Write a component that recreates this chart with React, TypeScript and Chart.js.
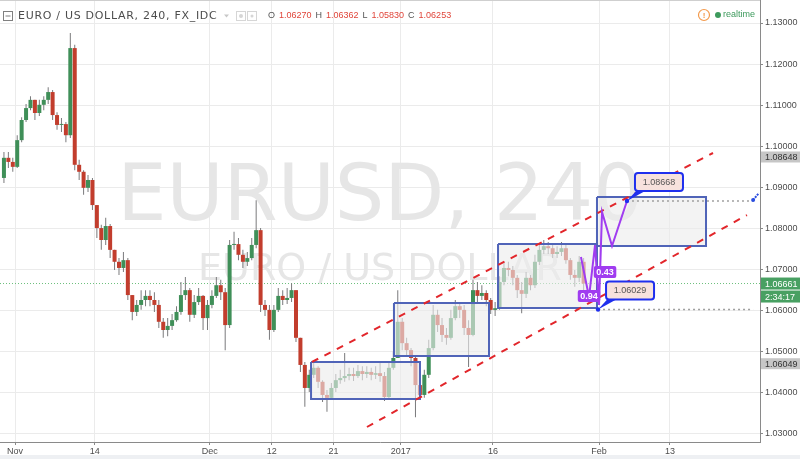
import React, { useEffect, useRef } from "react";
import { Chart, registerables } from "chart.js";

Chart.register(...registerables);

// ---------- data (trading-day index: Nov 1 2016 = 0, 12h candles) ----------
const candleStartDay = -1.25;
const candleStepDays = 0.5;
const firstOpen = 1.0923;

const closes = [
  1.0972, 1.0962, 1.095, 1.1015, 1.1064, 1.1093, 1.1113, 1.1081, 1.1101, 1.1113,
  1.1132, 1.1076, 1.1052, 1.1054, 1.1027, 1.1239, 1.0955, 1.0938, 1.0899, 1.0918,
  1.0857, 1.0801, 1.0772, 1.0806, 1.0748, 1.0719, 1.0704, 1.0723, 1.0638, 1.0597,
  1.0614, 1.0626, 1.0636, 1.0626, 1.0614, 1.0573, 1.0553, 1.0563, 1.0577, 1.0597,
  1.0638, 1.065, 1.059, 1.0621, 1.0636, 1.0582, 1.0614, 1.0636, 1.0662, 1.0645,
  1.0565, 1.076, 1.0762, 1.0736, 1.0719, 1.0728, 1.076, 1.0796, 1.0614, 1.0602,
  1.0553, 1.0602, 1.0636, 1.0626, 1.0631, 1.065, 1.0534, 1.0468, 1.0412, 1.0444,
  1.0461, 1.0427, 1.0395, 1.0388, 1.0412, 1.0431, 1.0436, 1.0441, 1.0446, 1.0441,
  1.0453, 1.0446, 1.0451, 1.0444, 1.0448, 1.0441, 1.039, 1.0461, 1.0485, 1.0573,
  1.0521, 1.0504, 1.0485, 1.0419, 1.0395, 1.0444, 1.0509, 1.059, 1.0565, 1.0541,
  1.0534, 1.0582, 1.0611, 1.0602, 1.0558, 1.0541, 1.065, 1.0636, 1.0643, 1.0626,
  1.0602, 1.0606, 1.067, 1.0704, 1.0699, 1.068, 1.065, 1.0641, 1.068, 1.0662,
  1.0719, 1.0748, 1.0757, 1.0752, 1.0738, 1.0743, 1.0752, 1.0723, 1.0687, 1.068,
  1.0719, 1.0666,
];

const highs = [
  1.0986, 1.0986, 1.0972, 1.1027, 1.1071, 1.1103, 1.1122, 1.1113, 1.1113, 1.1122,
  1.1144, 1.1137, 1.1083, 1.1069, 1.1059, 1.1276, 1.1247, 1.0967, 1.0942, 1.093,
  1.0923, 1.0857, 1.0809, 1.0826, 1.0811, 1.0748, 1.0728, 1.0743, 1.0728, 1.0638,
  1.0626, 1.065, 1.065, 1.065, 1.0645, 1.0626, 1.0582, 1.0582, 1.0592, 1.0611,
  1.067, 1.0682, 1.0655, 1.0638, 1.0655, 1.0638, 1.0626, 1.065, 1.0682, 1.0675,
  1.0655, 1.0772, 1.0792, 1.0777, 1.0748, 1.0743, 1.0777, 1.0869, 1.0801, 1.0626,
  1.0614, 1.0614, 1.0655, 1.065, 1.0655, 1.0667, 1.065, 1.0534, 1.0475, 1.0456,
  1.0475, 1.0465, 1.0431, 1.0407, 1.0424, 1.0446, 1.0456, 1.0497, 1.0461, 1.0461,
  1.0468, 1.0465, 1.0465, 1.0461, 1.0465, 1.0475, 1.0451, 1.0475, 1.05, 1.065,
  1.0582, 1.0534, 1.0509, 1.049, 1.0431, 1.0456, 1.0529, 1.0614, 1.0602, 1.0582,
  1.0558, 1.0602, 1.0626, 1.0621, 1.0614, 1.0577, 1.0675, 1.067, 1.0662, 1.065,
  1.0631, 1.0621, 1.0684, 1.0719, 1.0719, 1.0709, 1.0687, 1.067, 1.0694, 1.0687,
  1.0736, 1.0762, 1.0772, 1.0767, 1.0762, 1.0757, 1.0767, 1.076, 1.0728, 1.0699,
  1.0733, 1.0728,
];

const lows = [
  1.0911, 1.0947, 1.0938, 1.0947, 1.101, 1.1059, 1.1088, 1.1064, 1.1074, 1.1088,
  1.1103, 1.1064, 1.104, 1.1035, 1.101, 1.102, 1.0942, 1.0918, 1.0882, 1.0889,
  1.0845, 1.0777, 1.0748, 1.076, 1.0728, 1.0699, 1.0687, 1.0694, 1.0626, 1.0577,
  1.0587, 1.0602, 1.0611, 1.0611, 1.0597, 1.0558, 1.0534, 1.0538, 1.0553, 1.0573,
  1.059, 1.0626, 1.0573, 1.0582, 1.0614, 1.0553, 1.0553, 1.0606, 1.0631, 1.0626,
  1.0504, 1.0558, 1.0748, 1.0723, 1.0704, 1.0709, 1.0723, 1.0752, 1.0597, 1.0587,
  1.0529, 1.0548, 1.0597, 1.0614, 1.0616, 1.0621, 1.0524, 1.0451, 1.0366, 1.0402,
  1.0436, 1.0412, 1.0378, 1.0354, 1.0383, 1.0402, 1.0422, 1.0427, 1.0431, 1.0429,
  1.0436, 1.0431, 1.0436, 1.0431, 1.0434, 1.0427, 1.038, 1.0385, 1.0456, 1.0485,
  1.0504, 1.049, 1.0465, 1.0341, 1.0383, 1.0388, 1.0436, 1.0504, 1.0548, 1.0524,
  1.0517, 1.0529, 1.0577, 1.0582, 1.0541, 1.0463, 1.0538, 1.0621, 1.0626, 1.0611,
  1.0592, 1.0587, 1.0602, 1.0662, 1.0684, 1.0662, 1.0631, 1.0594, 1.0631, 1.065,
  1.0655, 1.0711, 1.0738, 1.0738, 1.0728, 1.0728, 1.0733, 1.0714, 1.0675, 1.0658,
  1.067, 1.065,
];

// visible range
const viewDayMin = -1.695;
const viewDayMax = 84.18;
const viewPriceMin = 1.02805;
const viewPriceMax = 1.1356;

const priceTicks = [1.03, 1.04, 1.05, 1.06, 1.07, 1.08, 1.09, 1.1, 1.11, 1.12, 1.13];
const timeTickDays = [0, 9, 22, 29, 36, 43.6, 54, 66, 74];
const timeTickLabels = ["Nov", "14", "Dec", "12", "21", "2017", "16", "Feb", "13"];

// drawings
const boxLeftDays = [33.45, 42.82, 54.58, 65.76];
const boxRightDays = [45.76, 53.56, 65.76, 78.08];
const boxTopPrices = [1.04752, 1.06187, 1.07623, 1.08766];
const boxBottomPrices = [1.03852, 1.04898, 1.06066, 1.07574];

const channelUpperDays = [33.56, 78.87];
const channelUpperPrices = [1.04752, 1.09837];
const channelLowerDays = [39.77, 82.71];
const channelLowerPrices = [1.0317, 1.08328];

const patternDays = [63.95, 64.86, 65.54, 65.99, 66.33, 67.46, 69.15];
const patternPrices = [1.07306, 1.06333, 1.07598, 1.06139, 1.08402, 1.07574, 1.08668];
const ratioLabelDays = [64.86, 66.67];
const ratioLabelPrices = [1.0636, 1.0694];
const ratioLabelTexts = ["0.94", "0.43"];

const targetDays = [69.15, 65.88];
const targetPrices = [1.08668, 1.06029];
const targetTexts = ["1.08668", "1.06029"];
const rayEndDay = 83.4;

const lastPrice = 1.06661;
const countdownText = "2:34:17";
const axisMarkPrices = [1.0974, 1.0471];
const axisMarkTexts = ["1.08648", "1.06049"];

const headerTitle = "EURO / US DOLLAR, 240, FX_IDC";
const ohlcKeys = ["O", "H", "L", "C"];
const ohlcValues = ["1.06270", "1.06362", "1.05830", "1.06253"];
const watermarkMain = "EURUSD, 240";
const watermarkSub = "EURO / US DOLLAR";

// ---------- styles ----------
const upFill = "#3f8f58";
const downFill = "#c23d2d";
const wickColor = "#7a7a7c";
const boxBlue = "#5064b8";
const channelRed = "#e2262b";
const purple = "#a03cf0";
const calloutBlue = "#1f2fee";
const SANS = "'Liberation Sans', Arial, sans-serif";

const candleDays = closes.map((_, i) => candleStartDay + i * candleStepDays);
const opens = closes.map((_, i) => (i === 0 ? firstOpen : closes[i - 1]));

function rr(ctx: CanvasRenderingContext2D, x: number, y: number, w: number, h: number, r: number) {
  ctx.beginPath();
  ctx.moveTo(x + r, y);
  ctx.lineTo(x + w - r, y);
  ctx.quadraticCurveTo(x + w, y, x + w, y + r);
  ctx.lineTo(x + w, y + h - r);
  ctx.quadraticCurveTo(x + w, y + h, x + w - r, y + h);
  ctx.lineTo(x + r, y + h);
  ctx.quadraticCurveTo(x, y + h, x, y + h - r);
  ctx.lineTo(x, y + r);
  ctx.quadraticCurveTo(x, y, x + r, y);
  ctx.closePath();
}

const decorPlugin = {
  id: "decor",
  beforeDatasetsDraw(chart: any) {
    const { ctx, chartArea: a } = chart;
    ctx.save();
    ctx.beginPath();
    ctx.rect(a.left, a.top, a.right - a.left, a.bottom - a.top);
    ctx.clip();
    const cx = (a.left + a.right) / 2;
    const cy = (a.top + a.bottom) / 2;
    ctx.fillStyle = "#e6e6e6";
    ctx.textAlign = "center";
    ctx.textBaseline = "alphabetic";
    ctx.font = "78px 'DejaVu Sans'";
    ctx.fillText(watermarkMain, cx, cy - 1);
    ctx.font = "38px 'DejaVu Sans'";
    ctx.fillText(watermarkSub, cx, cy + 59);
    ctx.restore();
  },
  afterDatasetsDraw(chart: any) {
    const { ctx, chartArea: a, scales } = chart;
    const xs = scales.x;
    const ys = scales.y;
    ctx.save();
    // ratio labels
    ctx.font = `bold 9px ${SANS}`;
    ctx.textAlign = "center";
    ctx.textBaseline = "middle";
    ratioLabelTexts.forEach((t, i) => {
      const px = xs.getPixelForValue(ratioLabelDays[i]);
      const py = ys.getPixelForValue(ratioLabelPrices[i]);
      const w = ctx.measureText(t).width + 5;
      ctx.fillStyle = purple;
      rr(ctx, px - w / 2, py - 6, w, 12, 2);
      ctx.fill();
      ctx.fillStyle = "#ffffff";
      ctx.fillText(t, px, py + 0.5);
    });
    // callouts
    targetTexts.forEach((t, i) => {
      const ax = xs.getPixelForValue(targetDays[i]);
      const ay = ys.getPixelForValue(targetPrices[i]);
      const bx = ax + 8;
      const by = ay - 28;
      const bw = 48;
      const bh = 18;
      ctx.fillStyle = calloutBlue;
      ctx.beginPath();
      ctx.moveTo(ax, ay);
      ctx.lineTo(bx + 2, by + bh - 1);
      ctx.lineTo(bx + 12, by + bh - 1);
      ctx.closePath();
      ctx.fill();
      ctx.fillStyle = "#f7e2dd";
      ctx.strokeStyle = calloutBlue;
      ctx.lineWidth = 2;
      rr(ctx, bx, by, bw, bh, 3);
      ctx.fill();
      ctx.stroke();
      ctx.fillStyle = "#555555";
      ctx.font = `9px ${SANS}`;
      ctx.fillText(t, bx + bw / 2, by + bh / 2 + 0.5);
      ctx.fillStyle = calloutBlue;
      ctx.beginPath();
      ctx.arc(ax, ay, 2.2, 0, Math.PI * 2);
      ctx.fill();
    });
    // small arrow at right end of upper ray
    const ry = ys.getPixelForValue(targetPrices[0]);
    const rx = xs.getPixelForValue(rayEndDay);
    ctx.strokeStyle = "#2a4de0";
    ctx.lineWidth = 2;
    ctx.setLineDash([2, 1]);
    ctx.beginPath();
    ctx.moveTo(rx, ry - 1);
    ctx.lineTo(a.right - 1, ry - 8);
    ctx.stroke();
    ctx.setLineDash([]);
    ctx.fillStyle = "#2a4de0";
    ctx.beginPath();
    ctx.arc(rx, ry - 1, 2, 0, Math.PI * 2);
    ctx.fill();
    ctx.restore();
  },
  afterDraw(chart: any) {
    const { ctx, chartArea: a, scales } = chart;
    const ys = scales.y;
    ctx.save();
    // top border
    ctx.strokeStyle = "#cfcfcf";
    ctx.lineWidth = 1;
    ctx.beginPath();
    ctx.moveTo(0, 0.5);
    ctx.lineTo(a.right, 0.5);
    ctx.stroke();
    // bottom band
    ctx.fillStyle = "#eef0f3";
    ctx.fillRect(0, chart.height - 4, chart.width, 4);

    // header
    ctx.strokeStyle = "#808080";
    ctx.strokeRect(3.5, 11.5, 9, 9);
    ctx.beginPath();
    ctx.moveTo(5.5, 16);
    ctx.lineTo(10.5, 16);
    ctx.stroke();
    ctx.textAlign = "left";
    ctx.textBaseline = "middle";
    ctx.fillStyle = "#4d4d4d";
    ctx.font = "11px 'DejaVu Sans'";
    (ctx as any).letterSpacing = "0.7px";
    ctx.fillText(headerTitle, 18, 16);
    (ctx as any).letterSpacing = "0px";
    // dropdown + icons
    ctx.fillStyle = "#c8c8c8";
    ctx.beginPath();
    ctx.moveTo(224, 14.5);
    ctx.lineTo(229, 14.5);
    ctx.lineTo(226.5, 17.5);
    ctx.closePath();
    ctx.fill();
    ctx.strokeStyle = "#d6d6d6";
    ctx.strokeRect(236.5, 11.5, 9, 9);
    ctx.strokeRect(247.5, 11.5, 9, 9);
    ctx.fillStyle = "#d6d6d6";
    ctx.beginPath();
    ctx.arc(241, 16, 2, 0, Math.PI * 2);
    ctx.arc(252, 16, 1.5, 0, Math.PI * 2);
    ctx.fill();
    // OHLC
    ctx.font = `9px ${SANS}`;
    let hx = 268;
    ohlcKeys.forEach((k, i) => {
      ctx.fillStyle = "#555555";
      ctx.fillText(k, hx, 16);
      hx += ctx.measureText(k).width + 4;
      ctx.fillStyle = "#e0453a";
      ctx.fillText(ohlcValues[i], hx, 16);
      hx += ctx.measureText(ohlcValues[i]).width + 4;
    });
    // realtime
    ctx.textAlign = "right";
    ctx.fillStyle = "#3d9a5c";
    ctx.fillText("realtime", a.right - 5, 15);
    const rtw = ctx.measureText("realtime").width;
    const dotX = a.right - 5 - rtw - 5;
    ctx.beginPath();
    ctx.arc(dotX, 15, 3, 0, Math.PI * 2);
    ctx.fill();
    ctx.strokeStyle = "#f39a4c";
    ctx.lineWidth = 1.2;
    ctx.beginPath();
    ctx.arc(dotX - 14, 15, 5.5, 0, Math.PI * 2);
    ctx.stroke();
    ctx.fillStyle = "#f39a4c";
    ctx.textAlign = "center";
    ctx.font = `bold 8px ${SANS}`;
    ctx.fillText("!", dotX - 14, 15.5);

    // price-axis markers
    ctx.textAlign = "left";
    ctx.font = `9px ${SANS}`;
    axisMarkTexts.forEach((t, i) => {
      const py = ys.getPixelForValue(axisMarkPrices[i]);
      ctx.fillStyle = "#c6c6c6";
      ctx.fillRect(a.right + 1, py - 5.5, chart.width - a.right - 1, 11);
      ctx.fillStyle = "#333333";
      ctx.fillText(t, a.right + 5, py + 0.5);
    });
    const ly = ys.getPixelForValue(lastPrice);
    ctx.fillStyle = "#48a062";
    ctx.fillRect(a.right + 1, ly - 6, chart.width - a.right - 1, 12);
    ctx.fillRect(a.right + 1, ly + 7, chart.width - a.right - 1, 12);
    ctx.fillStyle = "#ffffff";
    ctx.fillText(lastPrice.toFixed(5), a.right + 5, ly + 0.5);
    ctx.fillText(countdownText, a.right + 5, ly + 13.5);
    ctx.restore();
  },
};

function lineSet(xsArr: number[], ysArr: number[], extra: any) {
  return {
    type: "line",
    data: xsArr.map((d, i) => ({ x: d, y: ysArr[i] })),
    pointRadius: 0,
    tension: 0,
    fill: false,
    ...extra,
  };
}

export default function App() {
  const ref = useRef<HTMLCanvasElement>(null);

  useEffect(() => {
    document.body.style.margin = "0";
    const canvas = ref.current;
    if (!canvas) return;

    const boxSets = boxLeftDays.map((l, i) =>
      lineSet(
        [l, boxRightDays[i], boxRightDays[i], l, l],
        [boxTopPrices[i], boxTopPrices[i], boxBottomPrices[i], boxBottomPrices[i], boxTopPrices[i]],
        {
          borderColor: boxBlue,
          borderWidth: 2,
          backgroundColor: "rgba(236,236,236,0.62)",
          fill: "shape",
          order: 6,
        }
      )
    );

    const datasets: any[] = [
      {
        type: "bar",
        data: candleDays.map((d, i) => ({ x: d, y: [lows[i], highs[i]] })),
        backgroundColor: wickColor,
        barThickness: 1,
        grouped: false,
        inflateAmount: 0,
        borderWidth: 0,
        order: 20,
      },
      {
        type: "bar",
        data: candleDays.map((d, i) => ({ x: d, y: [opens[i], closes[i]] })),
        backgroundColor: candleDays.map((_, i) => (closes[i] >= opens[i] ? upFill : downFill)),
        barThickness: 4,
        grouped: false,
        inflateAmount: 0,
        borderWidth: 0,
        minBarLength: 1,
        order: 19,
      },
      lineSet([viewDayMin, viewDayMax], [lastPrice, lastPrice], {
        borderColor: "#6cbf7c",
        borderWidth: 1,
        borderDash: [1, 2],
        order: 25,
      }),
      ...boxSets,
      lineSet([targetDays[0], rayEndDay], [targetPrices[0], targetPrices[0]], {
        borderColor: "#a0a0a0",
        borderWidth: 1.5,
        borderDash: [2, 3],
        order: 5,
      }),
      lineSet([targetDays[1], rayEndDay], [targetPrices[1], targetPrices[1]], {
        borderColor: "#a0a0a0",
        borderWidth: 1.5,
        borderDash: [2, 3],
        order: 5,
      }),
      lineSet(channelUpperDays, channelUpperPrices, {
        borderColor: channelRed,
        borderWidth: 2,
        borderDash: [7, 7],
        order: 4,
      }),
      lineSet(channelLowerDays, channelLowerPrices, {
        borderColor: channelRed,
        borderWidth: 2,
        borderDash: [7, 7],
        order: 4,
      }),
      lineSet(patternDays, patternPrices, {
        borderColor: purple,
        borderWidth: 2,
        order: 3,
      }),
    ];

    const chart = new Chart(canvas, {
      type: "bar",
      data: { datasets },
      options: {
        responsive: false,
        maintainAspectRatio: false,
        devicePixelRatio: 1,
        animation: false,
        layout: { padding: 0 },
        plugins: { legend: { display: false }, tooltip: { enabled: false } },
        scales: {
          x: {
            type: "linear",
            min: viewDayMin,
            max: viewDayMax,
            offset: false,
            grid: { color: "#ebebeb", tickColor: "#8a8a8a", tickLength: 3, offset: false },
            border: { color: "#8a8a8a" },
            ticks: {
              autoSkip: false,
              maxRotation: 0,
              padding: 1,
              color: "#4d4d4d",
              font: { family: SANS, size: 9 },
              callback: (_v: any, i: number) => timeTickLabels[i],
            },
            afterBuildTicks: (s: any) => {
              s.ticks = timeTickDays.map((v) => ({ value: v }));
            },
            afterFit: (s: any) => {
              s.height = 17;
              s.paddingLeft = 0;
              s.paddingRight = 0;
            },
          },
          y: {
            type: "linear",
            position: "right",
            min: viewPriceMin,
            max: viewPriceMax,
            grid: { color: "#ebebeb", tickColor: "#8a8a8a", tickLength: 3 },
            border: { color: "#8a8a8a" },
            ticks: {
              padding: 2,
              color: "#4d4d4d",
              font: { family: SANS, size: 9 },
              callback: (v: any) => Number(v).toFixed(5),
            },
            afterBuildTicks: (s: any) => {
              s.ticks = priceTicks.map((v) => ({ value: v }));
            },
            afterFit: (s: any) => {
              s.width = 40;
              s.paddingTop = 0;
              s.paddingBottom = 0;
            },
          },
        },
      } as any,
      plugins: [decorPlugin as any],
    });

    return () => chart.destroy();
  }, []);

  return (
    <div style={{ width: 800, height: 459, background: "#ffffff" }}>
      <canvas ref={ref} width={800} height={459} style={{ display: "block" }} />
    </div>
  );
}
